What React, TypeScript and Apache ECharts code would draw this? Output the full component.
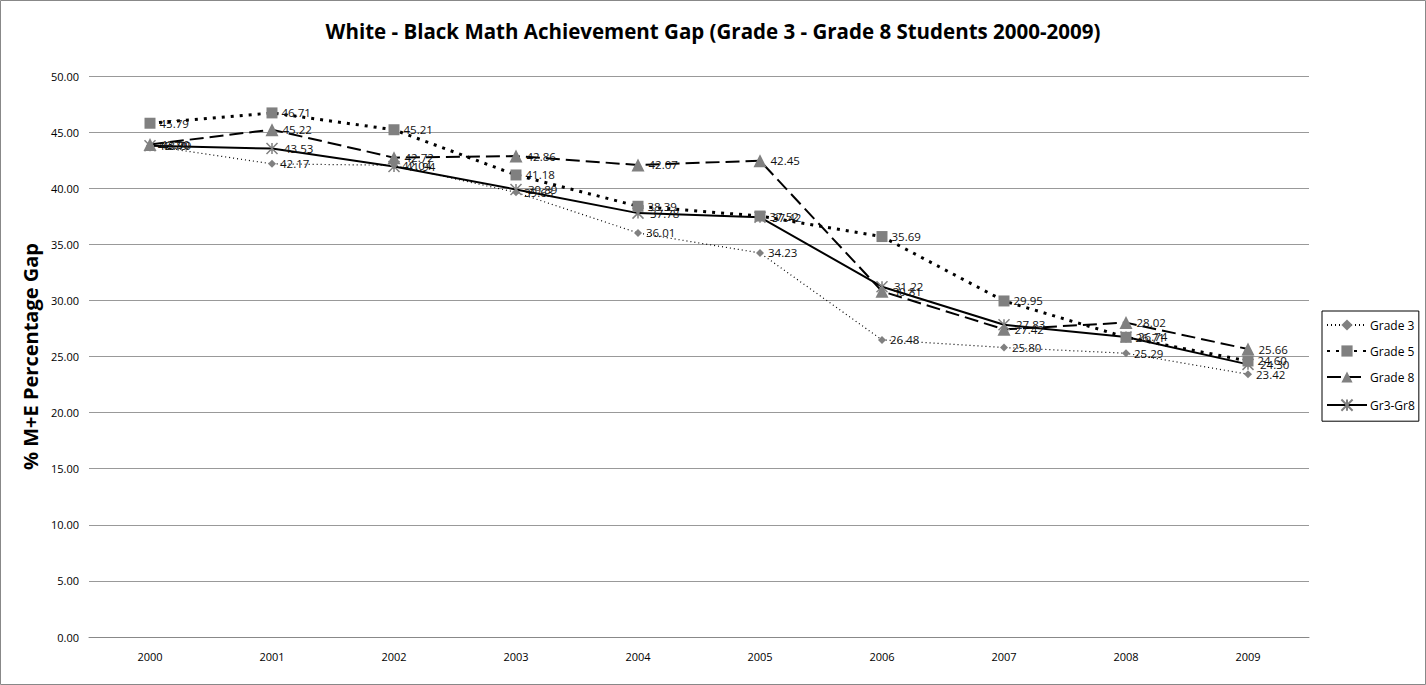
import React, { useEffect, useRef } from "react";
import * as echarts from "echarts";

const years = ["2000", "2001", "2002", "2003", "2004", "2005", "2006", "2007", "2008", "2009"];
const grade3 = [43.79, 42.17, 42.04, 39.63, 36.01, 34.23, 26.48, 25.8, 25.29, 23.42];
const grade5 = [45.79, 46.71, 45.21, 41.18, 38.39, 37.52, 35.69, 29.95, 26.71, 24.6];
const grade8 = [43.9, 45.22, 42.72, 42.86, 42.07, 42.45, 30.81, 27.42, 28.02, 25.66];
const gr3gr8 = [43.79, 43.53, 41.94, 39.89, 37.78, 37.42, 31.22, 27.83, 26.74, 24.3];

const FONT = "'Liberation Sans Narrow', 'Arial Narrow', 'Open Sans', sans-serif";
const ASTERISK = "path://M0,0L10,10M10,0L0,10M5,0L5,10";

export default function App() {
  const ref = useRef<HTMLDivElement>(null);
  useEffect(() => {
    if (!ref.current) return;
    const chart = echarts.init(ref.current, null, { renderer: "svg" });
    const label = {
      show: true,
      position: "right" as const,
      distance: 4,
      fontSize: 11.5,
      color: "#111",
      fontFamily: FONT,
      formatter: (p: any) => Number(p.value).toFixed(2),
    };
    const mk = (name: string, data: number[], symbol: string, size: number, line: any, item: any = {}) => ({
      name,
      type: "line",
      data,
      symbol,
      symbolSize: size,
      showAllSymbol: true,
      lineStyle: { color: "#000", ...line },
      itemStyle: { color: "#808080", ...item },
      label,
      z: 2,
    });
    chart.setOption({
      animation: false,
      backgroundColor: "#fff",
      title: {
        text: "White - Black Math Achievement Gap (Grade 3 - Grade 8 Students 2000-2009)",
        left: "center",
        top: 15,
        textStyle: { fontFamily: FONT, fontWeight: "bold", fontSize: 20.5, color: "#000" },
      },
      graphic: [
        {
          type: "rect",
          shape: { x: 0.5, y: 0.5, width: 1425, height: 684 },
          style: { fill: "none", stroke: "#888", lineWidth: 1 },
          silent: true,
        },
      ],
      legend: {
        orient: "vertical",
        left: 1322,
        top: 311,
        padding: [8, 4, 8, 4],
        itemGap: 14,
        itemWidth: 40,
        itemHeight: 14,
        borderColor: "#000",
        borderWidth: 1,
        textStyle: { fontFamily: FONT, fontSize: 12, color: "#000", padding: [0, 0, 0, -2] },
        data: ["Grade 3", "Grade 5", "Grade 8", "Gr3-Gr8"],
      },
      grid: { left: 89, right: 117, top: 76, bottom: 48 },
      xAxis: {
        type: "category",
        data: years,
        axisLine: { show: true, lineStyle: { color: "#888" } },
        axisTick: { show: false },
        axisLabel: { fontSize: 11, color: "#000", fontFamily: FONT, margin: 14 },
      },
      yAxis: {
        type: "value",
        min: 0,
        max: 50,
        interval: 5,
        name: "% M+E Percentage Gap",
        nameLocation: "middle",
        nameGap: 46,
        nameRotate: 90,
        nameTextStyle: { fontFamily: FONT, fontWeight: "bold", fontSize: 20, color: "#000" },
        axisLine: { show: false },
        axisTick: { show: false },
        axisLabel: { fontSize: 11, color: "#000", fontFamily: FONT, formatter: (v: number) => v.toFixed(2), margin: 10 },
        splitLine: { lineStyle: { color: "#999", width: 1 } },
      },
      series: [
        mk("Grade 3", grade3, "diamond", 8, { width: 1.2, type: [1, 3] }),
        mk("Grade 5", grade5, "rect", 11, { width: 3, type: [3, 6] }),
        mk("Grade 8", grade8, "triangle", 13, { width: 2, type: [14, 6] }),
        mk("Gr3-Gr8", gr3gr8, ASTERISK, 11, { width: 2, type: "solid" }, { color: "none", borderColor: "#808080", borderWidth: 1.5 }),
      ],
    });
    return () => chart.dispose();
  }, []);
  return <div ref={ref} style={{ position: "fixed", left: 0, top: 0, width: 1426, height: 685 }} />;
}
